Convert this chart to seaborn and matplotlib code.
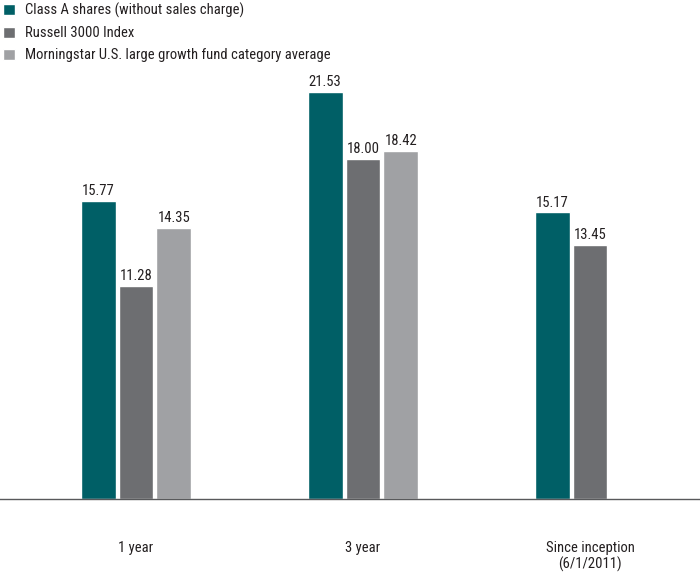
import numpy as np
import pandas as pd
import matplotlib
matplotlib.use("Agg")
import matplotlib.pyplot as plt
import seaborn as sns

# data
periods = ["1 year", "3 year", "Since inception\n(6/1/2011)"]
series = [
    "Class A shares (without sales charge)",
    "Russell 3000 Index",
    "Morningstar U.S. large growth fund category average",
]
class_a = [15.77, 21.53, 15.17]
russell = [11.28, 18.00, 13.45]
morningstar = [14.35, 18.42, np.nan]
colors = ["#005f66", "#6d6e71", "#a0a1a4"]

df = pd.DataFrame({
    "period": periods * 3,
    "series": [series[0]] * 3 + [series[1]] * 3 + [series[2]] * 3,
    "value": class_a + russell + morningstar,
}).dropna()

sns.set_theme(style="white")
plt.rcParams["font.family"] = ["Roboto Condensed", "DejaVu Sans"]

fig = plt.figure(figsize=(7, 5.79), dpi=100)
ax = fig.add_axes([0, 1 - 499 / 579, 1, 429 / 579])

sns.barplot(
    data=df, x="period", y="value", hue="series",
    order=periods, hue_order=series, palette=colors,
    width=0.5, gap=0.08, saturation=1, ax=ax,
)

for cont in ax.containers:
    ax.bar_label(cont, fmt="%.2f", padding=2, fontsize=10.5, color="#231f20")

ax.set_xlim(-136 / 227, 2 + 110 / 227)
ax.set_ylim(0, 429 / 18.9)
ax.set_xlabel("")
ax.set_ylabel("")
ax.set_yticks([])
ax.tick_params(axis="x", length=0, pad=30, labelsize=10.5, colors="#231f20")
for s in ["top", "left", "right"]:
    ax.spines[s].set_visible(False)
ax.spines["bottom"].set_color("#58595b")
ax.spines["bottom"].set_linewidth(1)

leg = ax.legend(
    loc="upper left", bbox_to_anchor=(0.0, 1.0), bbox_transform=fig.transFigure,
    frameon=False, fontsize=10.5, handlelength=0.8, handleheight=0.8,
    handletextpad=0.7, labelspacing=0.55, borderaxespad=0.0, borderpad=0.2,
)
for t in leg.get_texts():
    t.set_color("#231f20")

fig.savefig("out.png", dpi=100)
